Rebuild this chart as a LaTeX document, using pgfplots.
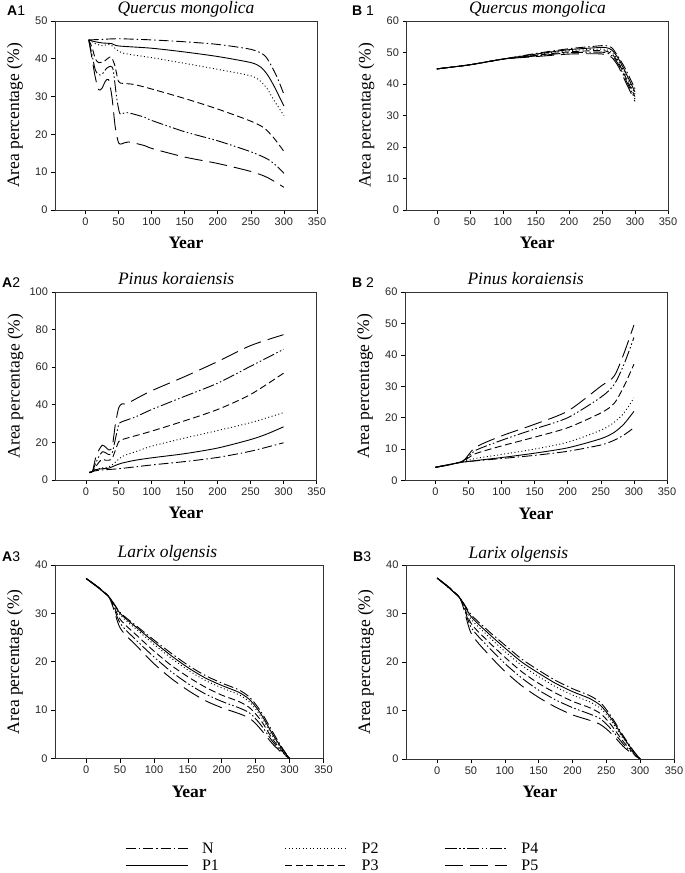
\documentclass[border=0pt]{standalone}
\usepackage{fontspec}
\setmainfont{Liberation Serif}
\newfontfamily\arial{Liberation Sans}
\usepackage{pgfplots}
\pgfplotsset{compat=1.18}
\tikzset{
 sN/.style={dash pattern=on 10pt off 3pt on 1.5pt off 3pt},
 sP1/.style={solid},
 sP2/.style={dash pattern=on 1pt off 2.5pt},
 sP3/.style={dash pattern=on 7pt off 3.5pt},
 sP4/.style={dash pattern=on 12pt off 2.5pt on 1.5pt off 2.5pt on 1.5pt off 2.5pt},
 sP5/.style={dash pattern=on 18pt off 7pt},
}
\pgfplotsset{
  panel/.style={
    scale only axis, anchor=south west,
    xmin=-46, xmax=350, ymin=0,
    xtick={0,50,...,350},
    tick align=outside, major tick length=4pt,
    xtick pos=bottom, ytick pos=left,
    axis line style={line width=0.8pt, black!80},
    tick style={line width=0.6pt, black},
    /pgf/number format/assume math mode=true,
    ticklabel style={font=\arial\fontsize{11}{13}\selectfont, text=black!85},
    every axis title/.style={at={(axis description cs:0,1)}, anchor=base west, xshift=59pt, yshift=7pt, font=\fontsize{17.5}{20}\selectfont\itshape},
    ylabel={Area percentage (\%)},
    every axis y label/.style={at={(axis description cs:0,0.5)}, xshift=-40pt, rotate=90, anchor=center, font=\fontsize{17.5}{20}\selectfont},
    xlabel={Year},
    every axis x label/.style={at={(axis description cs:0.5,0)}, yshift=-33pt, anchor=center, font=\fontsize{17.5}{20}\selectfont\bfseries},
    every axis plot/.append style={line width=0.9pt, black, smooth, tension=0.45, no markers},
  },
}
\begin{document}
\begin{tikzpicture}
\useasboundingbox (0pt,0pt) rectangle (685pt,873pt);
% A1
\begin{axis}[panel, at={(55pt,663pt)}, width=262pt, height=189pt, ymax=50, ytick={0,10,...,50}, title={Quercus mongolica}]
\addplot[sN] coordinates {(5,45)(20,45.1)(50,45.3)(100,45)(150,44.5)(200,43.8)(250,42.5)(270,41)(280,38.5)(290,35)(300,30.6)};
\addplot[sP1] coordinates {(5,45)(15,44.5)(25,44.2)(40,44)(50,43.4)(100,42.8)(150,41.8)(200,40.6)(250,39)(265,37.8)(275,35.8)(285,32.8)(300,27.5)};
\addplot[sP2] coordinates {(5,45)(15,44)(25,43.5)(38,43.7)(55,41.6)(100,40.3)(150,38.8)(200,37.2)(250,35.5)(265,34)(275,32)(285,29)(300,25)};
\addplot[sP3] coordinates {(5,45)(10,43)(15,40)(20,39)(28,39.3)(38,40.5)(44,38.5)(50,34)(57,33.5)(70,33.3)(90,32.5)(150,29.5)(200,26.7)(250,23.5)(270,21.7)(285,19)(300,15.5)};
\addplot[sP4] coordinates {(5,45)(10,41)(15,37)(20,35.8)(25,35.9)(32,37.5)(38,38)(42,37)(47,30)(52,25.5)(60,25.8)(70,25.5)(90,24.5)(100,23.7)(150,20.7)(200,18.3)(250,15.4)(275,13.5)(290,11.5)(300,9.7)};
\addplot[sP5] coordinates {(5,45)(10,40)(15,35)(20,31.8)(25,32.2)(30,34)(35,34.5)(40,30)(45,22)(50,17.8)(55,17.5)(65,18)(90,17)(100,16.3)(150,14)(200,12.3)(250,10.2)(275,8.6)(300,6)};
\end{axis}
% B1
\begin{axis}[panel, at={(406.5pt,663pt)}, width=261.5pt, height=189pt, ymax=60, ytick={0,10,...,60}, title={Quercus mongolica}]
\addplot[sN] coordinates {(0,44.8)(50,46.1)(100,47.9)(150,49.7)(200,51.2)(240,52)(255,52.2)(265,51.5)(275,48.5)(285,45)(300,38.5)};
\addplot[sP1] coordinates {(0,44.8)(50,46.1)(100,47.9)(150,49.5)(200,50.9)(240,51.5)(255,51.6)(265,50.8)(275,48)(285,44)(300,37.5)};
\addplot[sP2] coordinates {(0,44.8)(50,46.1)(100,47.9)(150,49.3)(200,50.6)(240,51)(255,51)(265,50)(275,47.3)(285,43.3)(300,36.8)};
\addplot[sP3] coordinates {(0,44.8)(50,46.1)(100,47.9)(150,49.1)(200,50.2)(240,50.6)(255,50.5)(265,49.5)(275,46.8)(285,42.5)(300,36)};
\addplot[sP4] coordinates {(0,44.8)(50,46.1)(100,47.9)(150,48.9)(200,49.9)(240,50.1)(255,50)(265,49)(275,46.2)(285,41.8)(300,35.2)};
\addplot[sP5] coordinates {(0,44.8)(50,46.1)(100,47.9)(150,48.7)(200,49.5)(240,49.6)(255,49.4)(265,48.4)(275,45.5)(285,41)(300,34.5)};
\end{axis}
% A2
\begin{axis}[panel, at={(55.5pt,393pt)}, width=261pt, height=188pt, ymax=100, ytick={0,20,...,100}, title={Pinus koraiensis}]
\addplot[sN] coordinates {(5,4)(10,4.5)(20,5.2)(50,6)(100,8)(150,9.8)(200,12)(250,15.3)(300,19.8)};
\addplot[sP1] coordinates {(5,4)(10,4.5)(15,5.5)(25,6)(35,6.3)(45,7.8)(55,9)(75,10.5)(100,11.8)(150,14)(200,17)(250,21.5)(275,24.5)(300,28.3)};
\addplot[sP2] coordinates {(5,4)(10,4.5)(15,5.5)(25,6.5)(35,7)(45,9.5)(55,12.5)(75,15)(100,18)(150,22.3)(200,26.3)(250,30.5)(300,35.8)};
\addplot[sP3] coordinates {(5,4)(10,4.5)(15,7)(20,9.5)(25,11)(30,10.5)(35,10.5)(40,11.5)(45,16)(50,20.5)(55,21.5)(75,23.5)(100,26)(150,31.5)(200,37.5)(250,45.5)(300,56.8)};
\addplot[sP4] coordinates {(5,4)(10,4.5)(15,9)(20,12.5)(25,15)(30,14.5)(35,13.5)(40,14.5)(45,22)(50,29.5)(55,31)(75,33.5)(100,37.5)(150,44.5)(200,51.5)(250,60.5)(300,69.5)};
\addplot[sP5] coordinates {(5,4)(10,4.5)(15,12)(20,16)(25,18.5)(30,17.5)(35,16)(40,17.5)(45,30)(50,38.5)(55,40.5)(62,40.5)(75,43)(100,47.5)(150,55)(200,63)(250,71.5)(300,77.3)};
\end{axis}
% B2
\begin{axis}[panel, at={(405pt,392.5pt)}, width=262pt, height=188.5pt, ymax=60, ytick={0,10,...,60}, title={Pinus koraiensis}]
\addplot[sN] coordinates {(0,4.2)(40,5.8)(100,7)(150,8)(200,9.3)(250,11.3)(270,12.8)(285,14.5)(300,16.8)};
\addplot[sP1] coordinates {(0,4.2)(40,5.8)(100,7.3)(150,8.7)(200,10.4)(250,13.3)(270,15.3)(285,18)(300,22)};
\addplot[sP2] coordinates {(0,4.2)(40,5.9)(60,7)(100,8.3)(150,10)(200,12.2)(250,16)(270,18.5)(285,21.5)(300,26.3)};
\addplot[sP3] coordinates {(0,4.2)(40,6)(60,8.5)(100,11)(150,13.8)(200,16.8)(250,21.5)(270,24.5)(285,30)(300,37)};
\addplot[sP4] coordinates {(0,4.2)(40,6)(60,9.5)(100,12.8)(150,16.4)(200,20)(250,26.5)(270,30.5)(285,37)(300,45.5)};
\addplot[sP5] coordinates {(0,4.2)(40,6)(60,10.5)(100,14.2)(150,17.9)(200,22.1)(250,30)(270,33.2)(285,40.5)(300,49.5)};
\end{axis}
% A3
\begin{axis}[panel, at={(55pt,114.5pt)}, width=268.5pt, height=193.5pt, ymax=40, ytick={0,10,...,40}, title={Larix olgensis},
  legend columns=3,
  legend style={at={(axis description cs:0,0)}, anchor=north west, xshift=67pt, yshift=-80pt, draw=none, fill=none,
    font=\fontsize{16}{18}\selectfont, row sep=1pt,
    /tikz/every odd column/.append style={column sep=12pt},
    /tikz/every even column/.append style={column sep=64pt}},
  legend cell align=left,
  legend image code/.code={\draw[#1, line width=0.8pt] (0pt,0pt) -- (62pt,0pt);}]
\addplot[sN, forget plot] coordinates {(0,37.2)(33,33.5)(50,30.2)(75,27.3)(100,24.5)(125,21.8)(150,19.3)(175,17.2)(200,15.6)(225,14.2)(240,12.8)(250,11.2)(260,9.2)(275,5.5)(290,2)(300,0)};
\addplot[sP1, forget plot] coordinates {(0,37.2)(33,33.5)(50,30)(75,27)(100,24.1)(125,21.3)(150,18.8)(175,16.7)(200,15.1)(225,13.7)(240,12.3)(250,10.7)(260,8.7)(275,5)(290,1.8)(300,0)};
\addplot[sP2, forget plot] coordinates {(0,37.2)(33,33.5)(50,29.7)(75,26.6)(100,23.6)(125,20.8)(150,18.3)(175,16.2)(200,14.6)(225,13.2)(240,11.8)(250,10.2)(260,8.2)(275,4.6)(290,1.6)(300,0)};
\addplot[sP3, forget plot] coordinates {(0,37.2)(33,33.5)(50,28.8)(75,25.4)(100,22.2)(125,19.3)(150,16.9)(175,14.8)(200,13.1)(225,11.8)(240,10.6)(250,9.2)(260,7.4)(275,4)(290,1.4)(300,0)};
\addplot[sP4, forget plot] coordinates {(0,37.2)(33,33.5)(50,28)(75,24.3)(100,21)(125,18)(150,15.5)(175,13.4)(200,11.8)(225,10.5)(240,9.5)(250,8.2)(260,6.5)(275,3.5)(290,1.2)(300,0)};
\addplot[sP5, forget plot] coordinates {(0,37.2)(33,33.5)(50,27)(75,23.2)(100,19.6)(125,16.6)(150,14.1)(175,12)(200,10.5)(225,9.3)(240,8.4)(250,7.2)(260,5.6)(275,3)(290,1)(300,0)};
\addlegendimage{sN}\addlegendentry{N}
\addlegendimage{sP2}\addlegendentry{P2}
\addlegendimage{sP4}\addlegendentry{P4}
\addlegendimage{sP1}\addlegendentry{P1}
\addlegendimage{sP3}\addlegendentry{P3}
\addlegendimage{sP5}\addlegendentry{P5}
\end{axis}
% B3
\begin{axis}[panel, at={(406pt,114pt)}, width=268pt, height=194pt, ymax=40, ytick={0,10,...,40}, title={Larix olgensis}]
\addplot[sN] coordinates {(0,37.3)(33,33.3)(50,29.8)(75,26.5)(100,23.5)(125,20.6)(150,18.3)(175,16.2)(200,14.5)(225,13.1)(240,11.8)(250,10.2)(260,8.2)(275,4.8)(290,1.7)(300,0)};
\addplot[sP1] coordinates {(0,37.3)(33,33.3)(50,29.4)(75,26)(100,22.9)(125,20)(150,17.7)(175,15.6)(200,13.9)(225,12.5)(240,11.2)(250,9.7)(260,7.8)(275,4.5)(290,1.6)(300,0)};
\addplot[sP2] coordinates {(0,37.3)(33,33.3)(50,28.9)(75,25.4)(100,22.2)(125,19.3)(150,17)(175,14.9)(200,13.2)(225,11.8)(240,10.6)(250,9.2)(260,7.3)(275,4.2)(290,1.5)(300,0)};
\addplot[sP3] coordinates {(0,37.3)(33,33.3)(50,28)(75,24.3)(100,21)(125,18)(150,15.6)(175,13.6)(200,11.9)(225,10.6)(240,9.5)(250,8.2)(260,6.5)(275,3.6)(290,1.3)(300,0)};
\addplot[sP4] coordinates {(0,37.3)(33,33.3)(50,27.2)(75,23.2)(100,19.7)(125,16.7)(150,14.2)(175,12.2)(200,10.6)(225,9.3)(240,8.4)(250,7.2)(260,5.7)(275,3.1)(290,1.1)(300,0)};
\addplot[sP5] coordinates {(0,37.3)(33,33.3)(50,26)(75,21.7)(100,18.1)(125,15.1)(150,12.7)(175,10.7)(200,9.1)(225,8)(240,7.2)(250,6.2)(260,4.9)(275,2.6)(290,0.9)(300,0)};
\end{axis}
% panel labels
\node[anchor=base west, inner sep=0pt, font=\arial\fontsize{14}{16}\selectfont] at (7pt,857pt) {\bfseries A\mdseries 1};
\node[anchor=base west, inner sep=0pt, font=\arial\fontsize{14}{16}\selectfont] at (352pt,857pt) {\bfseries B\mdseries\ 1};
\node[anchor=base west, inner sep=0pt, font=\arial\fontsize{14}{16}\selectfont] at (2pt,585pt) {\bfseries A\mdseries 2};
\node[anchor=base west, inner sep=0pt, font=\arial\fontsize{14}{16}\selectfont] at (352pt,585pt) {\bfseries B\mdseries\ 2};
\node[anchor=base west, inner sep=0pt, font=\arial\fontsize{14}{16}\selectfont] at (2pt,311pt) {\bfseries A\mdseries 3};
\node[anchor=base west, inner sep=0pt, font=\arial\fontsize{14}{16}\selectfont] at (353pt,311pt) {\bfseries B\mdseries 3};
\end{tikzpicture}
\end{document}
